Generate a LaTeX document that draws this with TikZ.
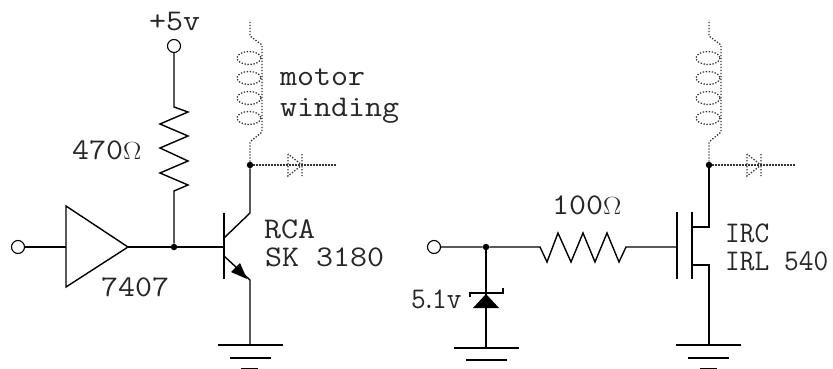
\documentclass[tikz,border=0pt]{standalone}
\usepackage{tikz}
\newcommand{\ohm}{{\fontsize{28}{28}\selectfont$\Omega$}}
\tikzset{
  wire/.style={line width=1.4pt},
  coilwire/.style={line width=1.3pt,dash pattern=on 1.3pt off 1.7pt,black!80},
  term/.style={circle,draw,line width=1.1pt,fill=white,inner sep=0pt,minimum size=13pt},
  jdot/.style={circle,fill,inner sep=0pt,minimum size=6.5pt},
  lbl/.style={anchor=base west,inner sep=0pt,transform shape,xscale=1.1,
    font=\ttfamily\fontsize{30}{30}\selectfont,black!85},
  lbltight/.style={lbl,xscale=0.866}
}
\begin{document}
\begin{tikzpicture}
    [x=1pt,y=-1pt]
    \useasboundingbox (0,0) rectangle (833,369);
    % left circuit
    \node[term] (vcc) at (174,46) {};
    \node[term] (inl) at (18,247) {};
    \node[jdot] (jbase) at (174,247) {};
    \node[jdot] (jcoll) at (250,165) {};
    \coordinate (rtop) at (174,107);
    \coordinate (rbot) at (174,191);
    \coordinate (bufa) at (66,247);
    \coordinate (bufb) at (128,247);
    \coordinate (base) at (224,247);
    \coordinate (gndl) at (250,345);
    \draw[wire] (vcc) -- (rtop) -- (188,112) -- (160,124) -- (188,136) -- (160,148)
      -- (188,161) -- (160,173) -- (188,185) -- (rbot) -- (jbase);
    \draw[wire] (inl) -- (bufa);
    \draw[wire,line join=miter] (66,206) -- (bufb) -- (66,287) -- cycle;
    \draw[wire] (bufb) -- (jbase) -- (base);
    \draw[wire] (224,213) -- (224,279);
    \draw[wire] (224,238) -- (250,213) -- (jcoll);
    \draw[wire] (224,256) -- (250,280) -- (gndl);
    \fill (247,279) -- (240,263) -- (231,272) -- cycle;
    \draw[wire] (218,345) -- (283,345) (230,358) -- (271,358) (241,369) -- (258,369);
    % left winding
    \draw[coilwire] (jcoll) -- (250,142) -- (262,132) -- (262,45) -- (250,36) -- (250,20);
    \draw[coilwire] (249,58) ellipse (12 and 6.5) (249,78) ellipse (12 and 6.5)
      (249,98) ellipse (12 and 6.5) (249,118) ellipse (12 and 6.5);
    \draw[coilwire] (jcoll) -- (337,165);
    \draw[coilwire] (288,154) -- (288,176) -- (302,165) -- cycle (302,154) -- (302,176);
    % right circuit
    \node[term] (inr) at (434,247) {};
    \node[jdot] (jzen) at (486,247) {};
    \node[jdot] (jdrain) at (709,165) {};
    \coordinate (rin) at (540,247);
    \coordinate (rout) at (626,247);
    \coordinate (gate) at (677,247);
    \coordinate (gndz) at (486,348);
    \coordinate (gndr) at (709,345);
    \draw[wire] (inr) -- (jzen) -- (rin) -- (547,262) -- (558,233) -- (571,262) -- (583,233)
      -- (595,262) -- (607,233) -- (619,262) -- (rout) -- (gate);
    \draw[wire] (677,212) -- (677,279) (692,212) -- (692,279);
    \draw[wire] (692,227) -- (709,227) -- (jdrain);
    \draw[wire] (692,265) -- (709,265) -- (gndr);
    \draw[wire] (jzen) -- (gndz);
    \draw[wire] (470,297) -- (470,293) -- (503,293) -- (503,288);
    \fill (486,294) -- (499,308) -- (473,308) -- cycle;
    \draw[wire] (454,348) -- (519,348) (466,360) -- (507,360);
    \draw[wire] (676,345) -- (741,345) (688,358) -- (729,358) (700,369) -- (717,369);
    % right winding
    \draw[coilwire] (jdrain) -- (709,142) -- (721,132) -- (721,45) -- (709,36) -- (709,20);
    \draw[coilwire] (708,58) ellipse (12 and 6.5) (708,78) ellipse (12 and 6.5)
      (708,98) ellipse (12 and 6.5) (708,118) ellipse (12 and 6.5);
    \draw[coilwire] (jdrain) -- (796,165);
    \draw[coilwire] (747,154) -- (747,176) -- (761,165) -- cycle (761,154) -- (761,176);
    % labels
    \node[lbl] (lvcc) at (149,31) {+5v};
    \node[lbl] (lmotor) at (280,85) {motor};
    \node[lbl] (lwind) at (280,117) {winding};
    \node[lbl] (lrone) at (72,159) {470\ohm};
    \node[lbl] (lbuf) at (101,296) {7407};
    \node[lbl] (lrca) at (264,238) {RCA};
    \node[lbl] (lsk) at (265,266) {SK 3180};
    \node[lbltight] (lzen) at (411,308) {5\kern-4.5pt.\kern-4.5pt1v};
    \node[lbl] (lrtwo) at (552,214) {100\ohm};
    \node[lbltight] (lirc) at (725,242) {IRC};
    \node[lbltight] (lirl) at (725,270) {IRL 540};
  \end{tikzpicture}
\end{document}
